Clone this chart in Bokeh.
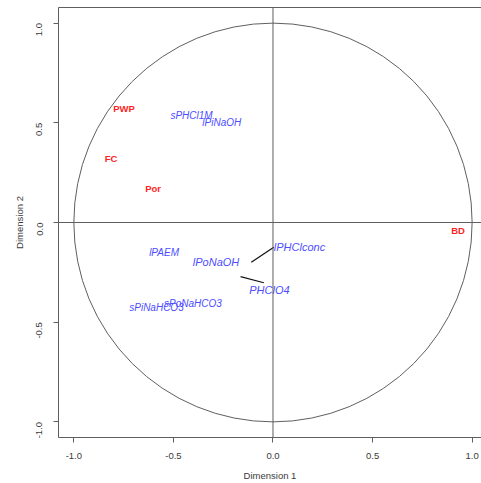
import math
from bokeh.plotting import figure
from bokeh.models import (Range1d, FixedTicker, PrintfTickFormatter, Span,
                          LinearAxis)
from bokeh.core.properties import value
from bokeh.embed import file_html
from bokeh.resources import INLINE

# ---- data ----
red_labels = ["PWP", "FC", "Por", "BD"]
red_x = [-0.748, -0.813, -0.602, 0.929]
red_y = [0.573, 0.322, 0.169, -0.040]

blue_small_labels = ["sPHCl1M", "lPiNaOH", "lPAEM", "sPoNaHCO3", "sPiNaHCO3"]
blue_small_x = [-0.409, -0.257, -0.547, -0.402, -0.585]
blue_small_y = [0.536, 0.503, -0.149, -0.404, -0.428]

blue_big_labels = ["lPoNaOH", "lPHClconc", "PHClO4"]
blue_big_x = [-0.286, 0.133, -0.018]
blue_big_y = [-0.199, -0.124, -0.337]

seg_x0 = [-0.109, -0.163]
seg_y0 = [-0.199, -0.271]
seg_x1 = [0.004, -0.046]
seg_y1 = [-0.124, -0.302]

ticks = [-1.0, -0.5, 0.0, 0.5, 1.0]

LINE = "#5f5f5f"
TXT = "#3a3a3a"
FONT = "Liberation Sans"
RED = "#ff1f1f"
BLUE = "#4d4dff"

p = figure(width=481, height=483, output_backend="svg", toolbar_location=None,
           x_range=Range1d(-1.077, 1.047), y_range=Range1d(-1.078, 1.078),
           min_border_left=58, min_border_right=0, min_border_top=7,
           min_border_bottom=0)
p.outline_line_color = None
p.grid.visible = False
p.background_fill_color = "white"
p.border_fill_color = "white"

for ax in (p.xaxis[0], p.yaxis[0]):
    ax.ticker = FixedTicker(ticks=ticks)
    ax.formatter = PrintfTickFormatter(format="%.1f")
    ax.axis_line_color = LINE
    ax.major_tick_line_color = LINE
    ax.major_tick_out = 5
    ax.major_tick_in = 0
    ax.minor_tick_line_color = None
    ax.major_label_text_font = FONT
    ax.major_label_text_font_size = "9.5px"
    ax.major_label_text_color = TXT
    ax.axis_label_text_font = FONT
    ax.axis_label_text_font_size = "9.5px"
    ax.axis_label_text_font_style = "normal"
    ax.axis_label_text_color = TXT

p.xaxis.axis_label = "Dimension 1"
p.xaxis.major_label_standoff = 10
p.xaxis.axis_label_standoff = 8
p.yaxis.axis_label = "Dimension 2"
p.yaxis.major_label_orientation = math.pi / 2
p.yaxis.major_label_standoff = 14
p.yaxis.axis_label_standoff = 6

top = LinearAxis(ticker=FixedTicker(ticks=[]), axis_line_color=LINE,
                 major_tick_line_color=None, minor_tick_line_color=None,
                 major_label_text_font_size="0px", major_label_standoff=0)
p.add_layout(top, "above")

# crosshair lines
p.add_layout(Span(location=0, dimension="height", line_color=LINE, line_width=1))
p.add_layout(Span(location=0, dimension="width", line_color=LINE, line_width=1))

# unit circle
p.ellipse(x=[0], y=[0], width=[2], height=[2], fill_color=None,
          line_color=LINE, line_width=1)

# leader segments
p.segment(x0=seg_x0, y0=seg_y0, x1=seg_x1, y1=seg_y1, line_color="#111111",
          line_width=1.2)

p.text(x=red_x, y=red_y, text=red_labels, text_color=RED,
       text_font=value(FONT), text_font_size="9.5px", text_font_style="bold",
       text_align="center", text_baseline="middle")
p.text(x=blue_small_x, y=blue_small_y, text=blue_small_labels, text_color=BLUE,
       text_font=value(FONT), text_font_size="10px", text_font_style="italic",
       text_align="center", text_baseline="middle")
p.text(x=blue_big_x, y=blue_big_y, text=blue_big_labels, text_color=BLUE,
       text_font=value(FONT), text_font_size="11px", text_font_style="italic",
       text_align="center", text_baseline="middle")

open("out.html", "w").write(file_html(p, INLINE))
